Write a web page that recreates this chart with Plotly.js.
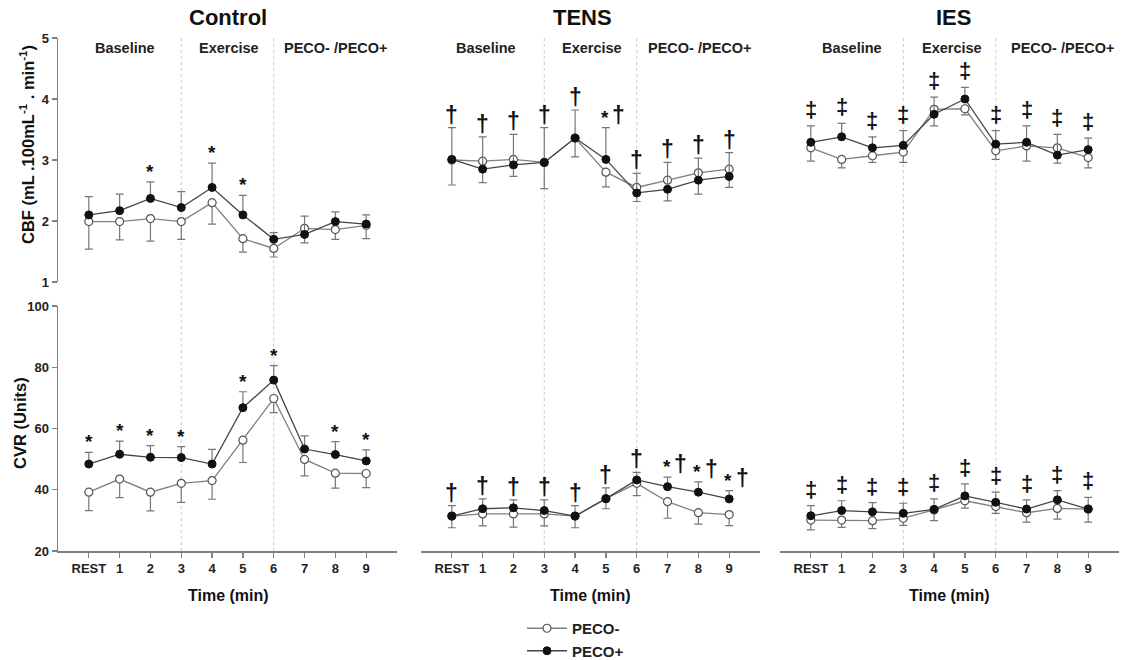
<!DOCTYPE html>
<html>
<head>
<meta charset="utf-8">
<script src="https://cdn.plot.ly/plotly-3.0.1.min.js"></script>
<style>html,body{margin:0;padding:0;background:#fff}#chart{width:1122px;height:660px}</style>
</head>
<body>
<div id="chart"></div>
<script>
// ---------- DATA ----------
const timeLabels = ['REST','1','2','3','4','5','6','7','8','9'];
const panelNames = ['Control','TENS','IES'];
const phaseLabels = ['Baseline','Exercise','PECO- /PECO+'];
const phaseBoundaries = ['3','6'];
const seriesNames = ['PECO-','PECO+'];

const controlCbfMinus   = [1.99,1.99,2.04,1.99,2.30,1.71,1.55,1.88,1.86,1.93];
const controlCbfMinusSd = [0.45,0.30,0.37,0.29,0.35,0.22,0.14,0.24,0.16,0.22];
const controlCbfPlus    = [2.10,2.17,2.37,2.22,2.55,2.10,1.70,1.78,1.99,1.95];
const controlCbfPlusSd  = [0.30,0.27,0.27,0.26,0.40,0.32,0.11,0.30,0.16,0.15];
const controlCbfSig     = ['','','*','','*','*','','','',''];

const controlCvrMinus   = [39.2,43.5,39.2,42.1,43.0,56.2,69.8,49.9,45.4,45.3];
const controlCvrMinusSd = [6.0,6.1,6.1,6.2,6.1,7.3,4.6,5.4,4.9,4.6];
const controlCvrPlus    = [48.4,51.6,50.6,50.5,48.4,66.8,75.8,53.3,51.5,49.4];
const controlCvrPlusSd  = [3.8,4.3,3.8,3.6,4.8,5.2,4.7,4.3,4.2,3.6];
const controlCvrSig     = ['*','*','*','*','','*','*','','*','*'];

const tensCbfMinus   = [3.00,2.98,3.01,2.96,3.36,2.80,2.55,2.67,2.79,2.85];
const tensCbfMinusSd = [0.41,0.35,0.28,0.43,0.31,0.24,0.23,0.34,0.35,0.30];
const tensCbfPlus    = [3.01,2.85,2.92,2.96,3.36,3.01,2.46,2.52,2.67,2.73];
const tensCbfPlusSd  = [0.52,0.53,0.50,0.57,0.46,0.52,0.32,0.44,0.36,0.39];
const tensCbfSig     = ['†','†','†','†','†','*†','†','†','†','†'];

const tensCvrMinus   = [31.4,32.1,32.1,32.1,31.4,37.1,42.1,36.1,32.5,31.9];
const tensCvrMinusSd = [3.8,3.9,4.3,3.9,3.8,3.3,4.0,5.4,3.7,3.6];
const tensCvrPlus    = [31.4,33.8,34.1,33.2,31.4,37.1,43.2,41.0,39.2,37.0];
const tensCvrPlusSd  = [3.4,3.2,2.6,3.5,3.4,3.5,2.5,3.1,3.4,2.7];
const tensCvrSig     = ['†','†','†','†','†','†','†','*†','*†','*†'];

const iesCbfMinus   = [3.20,3.01,3.07,3.13,3.83,3.84,3.15,3.23,3.20,3.04];
const iesCbfMinusSd = [0.22,0.14,0.11,0.17,0.27,0.10,0.14,0.25,0.25,0.17];
const iesCbfPlus    = [3.29,3.38,3.20,3.24,3.75,4.00,3.26,3.29,3.08,3.17];
const iesCbfPlusSd  = [0.27,0.22,0.18,0.24,0.28,0.19,0.22,0.27,0.34,0.19];
const iesCbfSig     = ['‡','‡','‡','‡','‡','‡','‡','‡','‡','‡'];

const iesCvrMinus   = [30.1,30.1,29.9,30.7,33.4,36.4,34.5,32.5,33.9,33.7];
const iesCvrMinusSd = [3.2,2.4,2.6,2.3,3.5,2.4,2.2,3.1,3.5,4.3];
const iesCvrPlus    = [31.5,33.2,32.8,32.3,33.6,38.0,35.9,33.7,36.7,33.7];
const iesCvrPlusSd  = [3.3,3.2,3.0,3.3,3.4,3.9,3.3,3.0,3.0,3.8];
const iesCvrSig     = ['‡','‡','‡','‡','‡','‡','‡','‡','‡','‡'];

const cbfTicks = [1,2,3,4,5];
const cvrTicks = [20,40,60,80,100];

// ---------- LAYOUT HELPERS ----------
const W = 1122, H = 660;
const FONT = 'Liberation Sans, Arial, Helvetica, sans-serif';
const px = v => v / W;
const py = v => 1 - v / H;
const panelX = [[58,397],[421,760],[780,1119]];
const topY = [38,282], botY = [306,551];

const panels = [
  {cbf:[controlCbfMinus,controlCbfMinusSd,controlCbfPlus,controlCbfPlusSd,controlCbfSig],
   cvr:[controlCvrMinus,controlCvrMinusSd,controlCvrPlus,controlCvrPlusSd,controlCvrSig]},
  {cbf:[tensCbfMinus,tensCbfMinusSd,tensCbfPlus,tensCbfPlusSd,tensCbfSig],
   cvr:[tensCvrMinus,tensCvrMinusSd,tensCvrPlus,tensCvrPlusSd,tensCvrSig]},
  {cbf:[iesCbfMinus,iesCbfMinusSd,iesCbfPlus,iesCbfPlusSd,iesCbfSig],
   cvr:[iesCvrMinus,iesCvrMinusSd,iesCvrPlus,iesCvrPlusSd,iesCvrSig]}
];

const zeros = timeLabels.map(() => 0);
const traces = [];
const annotations = [];
const shapes = [];
const layout = {
  width: W, height: H, margin:{l:0,r:0,t:0,b:0,autoexpand:false},
  paper_bgcolor:'#fff', plot_bgcolor:'rgba(0,0,0,0)',
  font:{family:FONT, color:'#222'},
  showlegend:true,
  legend:{x:px(522), y:py(612), xanchor:'left', yanchor:'top', bgcolor:'rgba(0,0,0,0)',
          font:{family:FONT,size:15,weight:'bold',color:'#222'}, tracegroupgap:0, itemwidth:40},
};

function addSeries(xa, ya, data, legendShow){
  const [minus, minusSd, plus, plusSd, sig] = data;
  traces.push({
    type:'scatter', mode:'lines+markers', name:seriesNames[0], showlegend:legendShow,
    x:timeLabels, y:minus, xaxis:xa, yaxis:ya,
    line:{color:'#808080', width:1.3},
    marker:{symbol:'circle', size:8, color:'#fff', line:{color:'#555', width:1.2}},
    error_y:{type:'data', symmetric:false, array:zeros, arrayminus:minusSd, color:'#777', thickness:1.2, width:4}
  });
  traces.push({
    type:'scatter', mode:'lines+markers', name:seriesNames[1], showlegend:legendShow,
    x:timeLabels, y:plus, xaxis:xa, yaxis:ya,
    line:{color:'#444', width:1.3},
    marker:{symbol:'circle', size:8, color:'#111', line:{color:'#111', width:1}},
    error_y:{type:'data', symmetric:false, array:plusSd, arrayminus:zeros, color:'#777', thickness:1.2, width:4}
  });
  return {minus, plus, plusSd, sig};
}

panels.forEach((p, i) => {
  const n = i + 1;
  const m = i + 4;
  const xt = 'x' + n, yt = 'y' + n, xb = 'x' + m, yb = 'y' + m;
  const xk = n === 1 ? 'xaxis' : 'xaxis' + n;
  const yk = n === 1 ? 'yaxis' : 'yaxis' + n;
  const dom = [px(panelX[i][0]), px(panelX[i][1])];

  const hiddenX = {type:'category', domain:dom, range:[-1,10], showline:false, showgrid:false, zeroline:false, showticklabels:false, ticks:'', fixedrange:true};
  layout[xk] = Object.assign({}, hiddenX, {anchor:yt});
  layout['xaxis' + m] = {type:'category', domain:dom, range:[-1,10], anchor:yb,
    showline:true, linecolor:'#808080', linewidth:1.5, showgrid:false, zeroline:false,
    ticks:'outside', ticklen:5, tickwidth:1.2, tickcolor:'#808080',
    tickfont:{family:FONT, size:13, weight:'bold', color:'#222'}};

  const showY = i === 0;
  const yCommon = {showgrid:false, zeroline:false, showline:showY, linecolor:'#808080', linewidth:1.5,
    ticks: showY ? 'outside' : '', ticklen:5, tickwidth:1.2, tickcolor:'#808080',
    showticklabels:showY, tickfont:{family:FONT, size:13, weight:'bold', color:'#222'}};
  layout[yk] = Object.assign({}, yCommon, {domain:[py(topY[1]), py(topY[0])], range:[1,5], tickvals:cbfTicks, anchor:xt});
  layout['yaxis' + m] = Object.assign({}, yCommon, {domain:[py(botY[1]), py(botY[0])], range:[20,100], tickvals:cvrTicks, anchor:xb});

  const top = addSeries(xt, yt, p.cbf, i === 0);
  const bot = addSeries(xb, yb, p.cvr, false);

  [[top, xt, yt], [bot, xb, yb]].forEach(([s, xa, ya]) => {
    s.sig.forEach((t, k) => {
      if (!t) return;
      const yTop = Math.max(s.plus[k] + s.plusSd[k], s.minus[k]);
      const isDd = t === '‡';
      const isCombo = t.length > 1;
      const isStar = t === '*';
      if (isCombo) {
        annotations.push({xref:xa, yref:ya, x:timeLabels[k], y:yTop, text:'*', showarrow:false,
          xanchor:'center', yanchor:'bottom', xshift:-1, yshift:-2,
          font:{family:FONT, size:19, weight:'bold', color:'#111'}});
        annotations.push({xref:xa, yref:ya, x:timeLabels[k], y:yTop, text:'†', showarrow:false,
          xanchor:'center', yanchor:'bottom', xshift:13, yshift:-2,
          font:{family:FONT, size:23, weight:'bold', color:'#111'}});
        return;
      }
      annotations.push({
        xref:xa, yref:ya, x:timeLabels[k], y:yTop, text:t, showarrow:false,
        xanchor:'center', yanchor:'bottom',
        yshift: isDd ? 2 : -2,
        font:{family:FONT, size: isDd ? 22 : (isStar ? 19 : 23), weight:'bold', color:'#111'}
      });
    });
  });

  phaseBoundaries.forEach(b => {
    shapes.push({type:'line', xref:xb, yref:'paper', x0:b, x1:b, y0:py(551), y1:py(36),
      line:{color:'#c8c8c8', width:1, dash:'dot'}, layer:'below'});
  });

  const titleX = [228, 582, 953][i];
  annotations.push({xref:'paper', yref:'paper', x:px(titleX), y:py(17), text:panelNames[i], showarrow:false,
    xanchor:'center', yanchor:'middle', font:{family:FONT, size:22, weight:'bold', color:'#111'}});

  const phasePos = [[1.17,4.54,8.03],[1.1,4.55,8.05],[1.33,4.58,8.18]][i];
  phaseLabels.forEach((lab, j) => {
    annotations.push({xref:'paper', yref:'paper',
      x:px(panelX[i][0] + (phasePos[j] + 1) * (panelX[i][1]-panelX[i][0]) / 11),
      y:py(48), text:lab, showarrow:false, xanchor:'center', yanchor:'middle',
      font:{family:FONT, size:14.5, weight:'bold', color:'#222'}});
  });

  const tx = [228, 590, 949][i];
  annotations.push({xref:'paper', yref:'paper', x:px(tx), y:py(595), text:'Time (min)', showarrow:false,
    xanchor:'center', yanchor:'middle', font:{family:FONT, size:16, weight:'bold', color:'#111'}});
});

annotations.push({xref:'paper', yref:'paper', x:px(27), y:py(145), textangle:-90, showarrow:false,
  text:'CBF (mL .100mL<sup>-1</sup> . min<sup>-1</sup>)', xanchor:'center', yanchor:'middle',
  font:{family:FONT, size:16.5, weight:'bold', color:'#111'}});
annotations.push({xref:'paper', yref:'paper', x:px(20), y:py(423), textangle:-90, showarrow:false,
  text:'CVR (Units)', xanchor:'center', yanchor:'middle',
  font:{family:FONT, size:16.5, weight:'bold', color:'#111'}});

layout.annotations = annotations;
layout.shapes = shapes;

Plotly.newPlot('chart', traces, layout, {displayModeBar:false, staticPlot:true});
</script>
</body>
</html>
